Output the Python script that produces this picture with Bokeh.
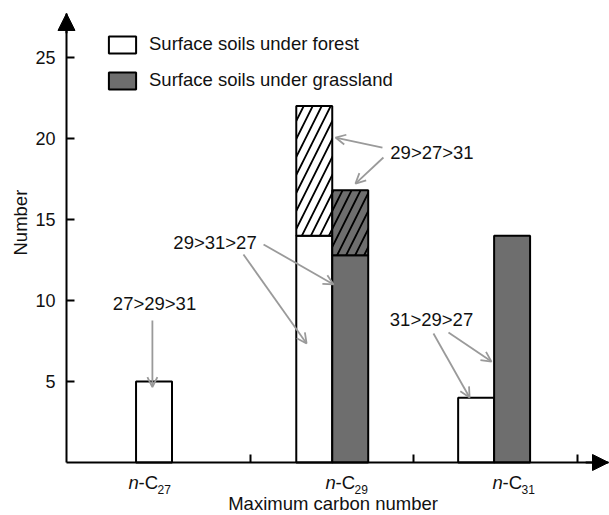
import numpy as np
from bokeh.plotting import figure
from bokeh.models import (ColumnDataSource, FixedTicker, Range1d, Legend, LegendItem,
                          Arrow, OpenHead, NormalHead)
from bokeh.core.properties import value
from bokeh.embed import file_html
from bokeh.resources import INLINE

# ---------------- data ----------------
categories = ["27", "29", "31"]
forest_plain = [5, 14, 4]
forest_hatched = [0, 8, 0]
grass_plain = [0, 12.8, 14]
grass_hatched = [0, 4.0, 0]
y_ticks = [5, 10, 15, 20, 25]
legend_labels = ["Surface soils under forest", "Surface soils under grassland"]
x_title = "Maximum carbon number"
y_title = "Number"

ann_texts = ["27>29>31", "29>31>27", "29>27>31", "31>29>27"]
ann_text_x = [0.913, 1.283, 2.610, 2.607]
ann_text_y = [9.81, 13.58, 19.14, 8.83]
arrow_x0 = [0.900, 1.580, 1.457, 2.307, 2.313, 2.619, 2.711]
arrow_y0 = [8.77, 13.46, 12.84, 19.44, 18.83, 7.96, 8.02]
arrow_x1 = [0.900, 2.008, 1.843, 2.020, 2.142, 2.840, 2.974]
arrow_y1 = [4.65, 10.99, 7.35, 20.06, 17.22, 4.01, 6.23]

# ---------------- layout ----------------
group_centers = np.array([1.02, 2.0, 2.99])
bar_w = 0.22
boundaries = [1.5, 2.5, 3.5]
cat_label_x = np.array([0.754, 1.959, 2.980])
AX_X = 0.3746      # x position of the y axis
X_END = 3.6896     # x-axis arrow tip
Y_END = 27.72      # y-axis arrow tip
PX = 163.5         # pixels per x unit
FONT = "Liberation Sans"
GRAY = "#6e6e6e"
ARROW_GRAY = "#9a9a9a"
TXT = "#111111"

p = figure(width=609, height=515, x_range=Range1d(-0.029, 3.6957), y_range=Range1d(-3.272, 28.52),
           output_backend="svg", toolbar_location=None,
           min_border_left=0, min_border_right=0, min_border_top=0, min_border_bottom=0)
p.outline_line_color = None
p.xgrid.visible = False
p.ygrid.visible = False
p.background_fill_color = "white"
p.border_fill_color = "white"

# axes (fixed inside the frame)
p.yaxis.ticker = FixedTicker(ticks=y_ticks)
p.xaxis.ticker = FixedTicker(ticks=boundaries)
p.xaxis.major_label_overrides = {b: "" for b in boundaries}
p.yaxis.fixed_location = AX_X
p.xaxis.fixed_location = 0
p.yaxis.bounds = (0, Y_END)
p.xaxis.bounds = (AX_X, X_END)
for ax in (p.xaxis[0], p.yaxis[0]):
    ax.major_tick_in = 8
    ax.major_tick_out = 0
    ax.minor_tick_in = 0
    ax.minor_tick_out = 0
    ax.axis_line_width = 2
    ax.axis_line_color = "black"
    ax.major_tick_line_width = 2
    ax.major_tick_line_color = "black"
    ax.major_label_text_font = FONT
    ax.major_label_text_font_size = "18px"
    ax.major_label_text_color = TXT
p.yaxis.major_label_standoff = 11

fx = group_centers - bar_w / 2
gx = group_centers + bar_w / 2
fp = np.array(forest_plain, dtype=float)
fh = np.array(forest_hatched, dtype=float)
gp = np.array(grass_plain, dtype=float)
gh = np.array(grass_hatched, dtype=float)

def src(x, bottom, top):
    m = (top - bottom) > 0
    return ColumnDataSource(dict(x=x[m], bottom=bottom[m], top=top[m]))

HATCH = dict(hatch_pattern="/", hatch_scale=18, hatch_weight=1.8, hatch_color="black")

r_fp = p.vbar(x="x", bottom="bottom", top="top", width=bar_w, source=src(fx, np.zeros(3), fp),
              fill_color="white", line_color="black", line_width=2)
p.vbar(x="x", bottom="bottom", top="top", width=bar_w, source=src(fx, fp, fp + fh),
       fill_color="white", line_color="black", line_width=2, **HATCH)
r_gp = p.vbar(x="x", bottom="bottom", top="top", width=bar_w, source=src(gx, np.zeros(3), gp),
              fill_color=GRAY, line_color="black", line_width=2)
p.vbar(x="x", bottom="bottom", top="top", width=bar_w, source=src(gx, gp, gp + gh),
       fill_color=GRAY, line_color="black", line_width=2, **HATCH)

# annotation arrows
for x0, y0, x1, y1 in zip(arrow_x0, arrow_y0, arrow_x1, arrow_y1):
    p.add_layout(Arrow(end=OpenHead(size=10, line_color=ARROW_GRAY, line_width=1.8),
                       x_start=x0, y_start=y0, x_end=x1, y_end=y1,
                       line_color=ARROW_GRAY, line_width=1.8))

p.text(x=ann_text_x, y=ann_text_y, text=ann_texts, text_font=value(FONT),
       text_font_size=value("18.5px"), text_align="center", text_baseline="middle",
       text_color=TXT)

# axis arrowheads
p.add_layout(Arrow(end=NormalHead(size=17, fill_color="black", line_color="black", line_width=1),
                   x_start=AX_X, y_start=26.5, x_end=AX_X, y_end=Y_END,
                   line_color="black", line_width=2))
p.add_layout(Arrow(end=NormalHead(size=16, fill_color="black", line_color="black", line_width=1),
                   x_start=3.55, y_start=0, x_end=X_END, y_end=0,
                   line_color="black", line_width=2))

# category labels n-C27 etc.
n_cats = len(categories)
p.text(x=cat_label_x, y=[-1.265] * n_cats, text=["n"] * n_cats, text_font=value(FONT),
       text_font_style="italic", text_font_size=value("18.5px"), text_baseline="middle",
       text_align="left", text_color=TXT)
p.text(x=cat_label_x + 10 / PX, y=[-1.265] * n_cats, text=["-C"] * n_cats, text_font=value(FONT),
       text_font_size=value("18.5px"), text_baseline="middle", text_align="left",
       text_color=TXT)
p.text(x=cat_label_x + 29 / PX, y=[-1.667] * n_cats, text=categories, text_font=value(FONT),
       text_font_size=value("12px"), text_baseline="middle", text_align="left",
       text_color=TXT)

# axis titles
p.text(x=[2.005], y=[-2.56], text=[x_title], text_font=value(FONT),
       text_font_size=value("18.5px"), text_align="center", text_baseline="middle",
       text_color=TXT)
p.text(x=[0.0933], y=[14.81], text=[y_title], text_font=value(FONT),
       text_font_size=value("18.5px"), text_align="center", text_baseline="middle",
       angle=np.pi / 2, text_color=TXT)

# legend
legend = Legend(items=[LegendItem(label=legend_labels[0], renderers=[r_fp]),
                       LegendItem(label=legend_labels[1], renderers=[r_gp])],
                location=(105, 424), orientation="vertical",
                glyph_width=34, glyph_height=21, label_height=21, spacing=14,
                padding=0, margin=0, label_standoff=10,
                label_text_font=FONT, label_text_font_size="18.5px", label_text_color=TXT,
                border_line_color=None, background_fill_alpha=0)
p.add_layout(legend)

open("out.html", "w").write(file_html(p, INLINE))
